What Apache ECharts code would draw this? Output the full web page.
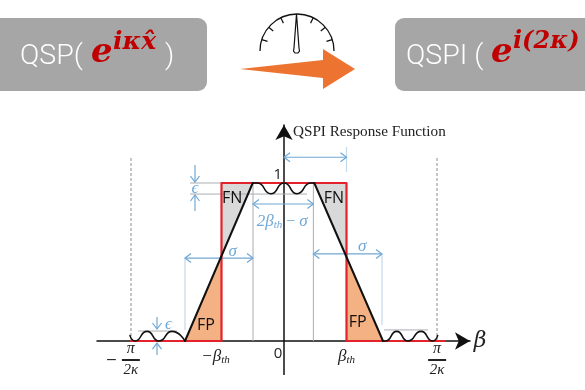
<!DOCTYPE html>
<html><head><meta charset="utf-8">
<style>html,body{margin:0;padding:0;background:#fff}#c{width:585px;height:390px}</style>
<script src="https://cdn.jsdelivr.net/npm/echarts@6/dist/echarts.min.js"></script>
</head><body><div id="c"></div>
<script>
const rippleLeft=[[-2.464,0.034],[-2.384,0],[-2.192,0.061],[-2.0,0],[-1.792,0.061],[-1.584,0]];
const slopeLeft=[[-1.584,0],[-0.5,1]];
const rippleTop=[[-0.5,1],[-0.43,1],[-0.21,0.932],[0,1],[0.21,0.932],[0.43,1],[0.485,1]];
const slopeRight=[[0.485,1],[1.584,0]];
const rippleRight=[[1.584,0],[1.62,0],[1.803,0.061],[1.984,0],[2.192,0.061],[2.379,0],[2.459,0.034]];
const idealResponse=[[-2.448,0],[-1,0],[-1,1],[1,1],[1,0],[2.576,0]];
const fpLeft=[[-1.584,0],[-1,0],[-1,0.539]];
const fpRight=[[1.584,0],[1,0],[1,0.535]];
const fnLeft=[[-1,1],[-0.5,1],[-1,0.539]];
const fnRight=[[1,1],[0.485,1],[1,0.535]];
const boundsDashed=[[[-2.448,1.158],[-2.448,0]],[[2.448,1.158],[2.448,0]]];
const guidesGray=[[[-0.496,1],[-0.496,0]],[[0.47,1],[0.47,0]],[[-1.504,0.93],[0.368,0.93]],[[-1.504,1],[-1,1]],[[-2.336,0.063],[-1.712,0.063]],[[1.6,0.07],[2.304,0.07]]];
const guidesBlue=[[[1,1.228],[1,1.07]],[[-1.584,0.525],[-1.584,0.07]],[[1.568,0.551],[1.568,0.101]]];
const spans=[[[0,1.163],[1,1.163]],[[-0.496,0.867],[0.47,0.867]],[[-1.584,0.525],[-0.496,0.525]],[[0.47,0.551],[1.568,0.551]]];
const pointers=[[[-1.424,1.114],[-1.424,1.006]],[[-1.424,0.823],[-1.424,0.924]],[[-2.032,0.152],[-2.032,0.076]],[[-2.032,-0.089],[-2.032,-0.013]]];
const yStem=[[[0,0],[0,-0.215]]];
const tickValues=[-2.45,-1,0,1,2.45];
const tickLabels=['frac','-b','0','b','frac'];
const regionLabels=[['FN',-0.83,0.905],['FN',0.8,0.905],['FP',-1.25,0.1],['FP',1.18,0.12]];
const blue='#6fa8d6', blueLight='#c3d9ec', gray='#a9adb2', red='#e3222b';
const serif='"DejaVu Serif"', lserif='"Liberation Serif"';

const lineS=(data,color,width,smooth,z)=>({type:'line',data,symbol:'none',smooth:smooth||false,silent:true,z:z||5,clip:false,
  lineStyle:{color,width,cap:'round',join:'round'}});
const polyS=(pts,color)=>({type:'custom',data:[0],silent:true,z:2,clip:false,renderItem:(p,api)=>({type:'polygon',
  shape:{points:pts.map(q=>api.coord(q))},style:{fill:color}})});
const segS=(segs,color,width,dash)=>({type:'custom',data:[0],silent:true,z:3,clip:false,renderItem:(p,api)=>({type:'group',
  children:segs.map(s=>{const a=api.coord(s[0]),b=api.coord(s[1]);
    return {type:'line',shape:{x1:a[0],y1:a[1],x2:b[0],y2:b[1]},style:{stroke:color,lineWidth:width,lineDash:dash||null}}})})});
function chev(tip,dir,len){const px=-dir[1],py=dir[0];
  return [[tip[0]-dir[0]*len+px*len*0.75,tip[1]-dir[1]*len+py*len*0.75],tip,[tip[0]-dir[0]*len-px*len*0.75,tip[1]-dir[1]*len-py*len*0.75]];}
const arrowS=(segs,both)=>({type:'custom',data:[0],silent:true,z:4,clip:false,renderItem:(p,api)=>{
  const kids=[];
  segs.forEach(s=>{const a=api.coord(s[0]),b=api.coord(s[1]);const L=Math.hypot(b[0]-a[0],b[1]-a[1]);const d=[(b[0]-a[0])/L,(b[1]-a[1])/L];
    const st={stroke:blue,lineWidth:1.2,fill:null};
    kids.push({type:'line',shape:{x1:a[0],y1:a[1],x2:b[0],y2:b[1]},style:st});
    kids.push({type:'polyline',shape:{points:chev(b,d,6)},style:st});
    if(both)kids.push({type:'polyline',shape:{points:chev(a,[-d[0],-d[1]],6)},style:st});});
  return {type:'group',children:kids};}});
const textS=(items)=>({type:'custom',data:[0],silent:true,z:6,clip:false,renderItem:(p,api)=>({type:'group',
  children:items.map(t=>{const c=api.coord([t.x,t.y]);return {type:'text',x:c[0],y:c[1],style:Object.assign({align:'center',verticalAlign:'middle'},t.style)};})})});

const mathRich={b:{fontFamily:lserif,fontStyle:'italic',fontSize:17,fill:blue,color:blue},s:{fontFamily:lserif,fontStyle:'italic',fontSize:11,fill:blue,color:blue,padding:[6,0,0,0]},n:{fontFamily:lserif,fontSize:16,fill:blue,color:blue}};

const texts=[
 {x:0.144,y:1.323,style:{text:'QSPI Response Function',align:'left',fontFamily:lserif,fontSize:15.2,fill:'#222'}},
 {x:3.136,y:0.0,style:{text:'β',fontFamily:serif,fontStyle:'italic',fontSize:22,fill:'#222'}},
 {x:-0.1,y:1.05,style:{text:'1',fontFamily:'"Open Sans"',fontSize:15,fill:'#222'}},
 {x:-0.03,y:0.755,style:{text:'{b|2β}{s|th}{n| − }{b|σ}',rich:mathRich,fill:blue}},
 {x:-0.82,y:0.565,style:{text:'{b|σ}',rich:mathRich,fill:blue}},
 {x:1.25,y:0.595,style:{text:'{b|σ}',rich:mathRich,fill:blue}},
 {x:-1.424,y:0.965,style:{text:'{b|ϵ}',rich:mathRich,fill:blue}},
 {x:-1.85,y:0.107,style:{text:'{b|ϵ}',rich:mathRich,fill:blue}},
 {x:-2.76,y:-0.125,style:{text:'−',fontFamily:serif,fontSize:14,fill:'#222'}}
].concat(regionLabels.map(r=>({x:r[1],y:r[2],style:{text:r[0],fontFamily:'"Open Sans"',fontSize:16,fill:'#111'}})));

function tickFmt(v,i){
  const k=tickLabels[tickValues.indexOf(v)];
  if(k==='frac')return '{pi|π}\n{bar|}\n{den|2κ}';
  if(k==='-b')return '{tb|−β}{ts|th}{pad|}';
  if(k==='b')return '{tb|β}{ts|th}';
  return '{zero|0}{zp|}';
}
const dark='#222';
const option={
 animation:false,backgroundColor:'#fff',
 grid:{left:97,right:115,top:125,bottom:49,outerBoundsMode:'none'},
 xAxis:{type:'value',min:-2.992,max:2.976,splitLine:{show:false},axisTick:{show:false},
   axisLine:{symbol:['none','arrow'],symbolSize:[13,15],lineStyle:{color:'#111',width:1.5}},
   axisLabel:{show:true,customValues:tickValues,margin:0,formatter:tickFmt,hideOverlap:false,showMinLabel:true,showMaxLabel:true,
     rich:{pi:{fontFamily:lserif,fontStyle:'italic',fontSize:16,color:dark,align:'center',lineHeight:16},
       bar:{width:18,height:2,backgroundColor:'#222',align:'center',lineHeight:6},
       den:{fontFamily:lserif,fontStyle:'italic',fontSize:15,color:dark,align:'center',lineHeight:14},
       tb:{fontFamily:lserif,fontStyle:'italic',fontSize:17,color:dark,lineHeight:32},
       ts:{fontFamily:lserif,fontStyle:'italic',fontSize:11,color:dark,padding:[6,0,0,0]},
       pad:{width:12},zero:{fontFamily:'"Open Sans"',fontSize:15,color:dark,lineHeight:25},zp:{width:12}}}},
 yAxis:{type:'value',min:0,max:1.367,splitLine:{show:false},axisTick:{show:false},axisLabel:{show:false},
   axisLine:{onZero:true,symbol:['none','arrow'],symbolSize:[13,15],lineStyle:{color:'#111',width:1.5}}},
 series:[
  polyS(fpLeft,'#f4b183'),polyS(fpRight,'#f4b183'),polyS(fnLeft,'#d9d9d9'),polyS(fnRight,'#d9d9d9'),
  segS(guidesGray,gray,1),segS(guidesBlue,blueLight,1.2),segS(boundsDashed,'#8c8c8c',1,[3,2]),segS(yStem,'#111',1.5),
  arrowS(spans,true),arrowS(pointers,false),
  lineS(idealResponse,red,2.2,false,5),
  lineS(slopeLeft,'#111',2,false,6),lineS(slopeRight,'#111',2,false,6),
  lineS(rippleLeft,'#111',1.6,0.6,6),lineS(rippleTop,'#111',1.6,0.6,6),lineS(rippleRight,'#111',1.6,0.6,6),
  textS(texts)
 ],
 graphic:{elements:[
  {type:'rect',shape:{x:-8,y:18,width:215,height:73,r:9},style:{fill:'#a6a6a6'}},
  {type:'rect',shape:{x:395,y:18,width:215,height:73,r:9},style:{fill:'#a6a6a6'}},
  {type:'text',x:20,y:57,style:{text:'QSP(',fontFamily:'Roboto',fontWeight:300,fontSize:28.5,fill:'#fff',verticalAlign:'middle'}},
  {type:'text',x:165,y:57,style:{text:')',fontFamily:'Roboto',fontWeight:300,fontSize:28.5,fill:'#fff',verticalAlign:'middle'}},
  {type:'text',x:91,y:53,style:{text:'e',fontFamily:serif,fontStyle:'italic',fontWeight:'bold',fontSize:34,fill:'#c00000',verticalAlign:'middle'}},
  {type:'text',x:113,y:42,style:{text:'iκx\u0302',fontFamily:serif,fontStyle:'italic',fontWeight:'bold',fontSize:25,fill:'#c00000',verticalAlign:'middle'}},
  {type:'text',x:406,y:57,style:{text:'QSPI (',fontFamily:'Roboto',fontWeight:300,fontSize:28.5,fill:'#fff',verticalAlign:'middle'}},
  {type:'text',x:491,y:53,style:{text:'e',fontFamily:serif,fontStyle:'italic',fontWeight:'bold',fontSize:34,fill:'#c00000',verticalAlign:'middle'}},
  {type:'text',x:513,y:42,style:{text:'i(2κ)',fontFamily:serif,fontStyle:'italic',fontWeight:'bold',fontSize:24,fill:'#c00000',verticalAlign:'middle'}},
  {type:'polygon',shape:{points:[[240,69],[323,60],[323,49],[355,69],[323,89],[323,78]]},style:{fill:'#ed7430'}},
  {type:'arc',shape:{cx:297,cy:51,r:37,startAngle:Math.PI,endAngle:2*Math.PI},style:{stroke:'#111',lineWidth:1.3,fill:null}}
 ].concat([-72,-50,-26,26,50,72].map(a=>{const t=a*Math.PI/180,s=Math.sin(t),c=Math.cos(t);
   return {type:'line',shape:{x1:297+37*s,y1:51-37*c,x2:297+31*s,y2:51-31*c},style:{stroke:'#111',lineWidth:1.2}};}))
 .concat([{type:'polygon',shape:{points:[[296.5,14],[294,48],[293.5,51],[295,53],[298,53],[299.5,51],[299,48]]},style:{fill:'#fff',stroke:'#111',lineWidth:1.2}}])}
};
echarts.init(document.getElementById('c'),null,{renderer:'canvas'}).setOption(option);
</script></body></html>
